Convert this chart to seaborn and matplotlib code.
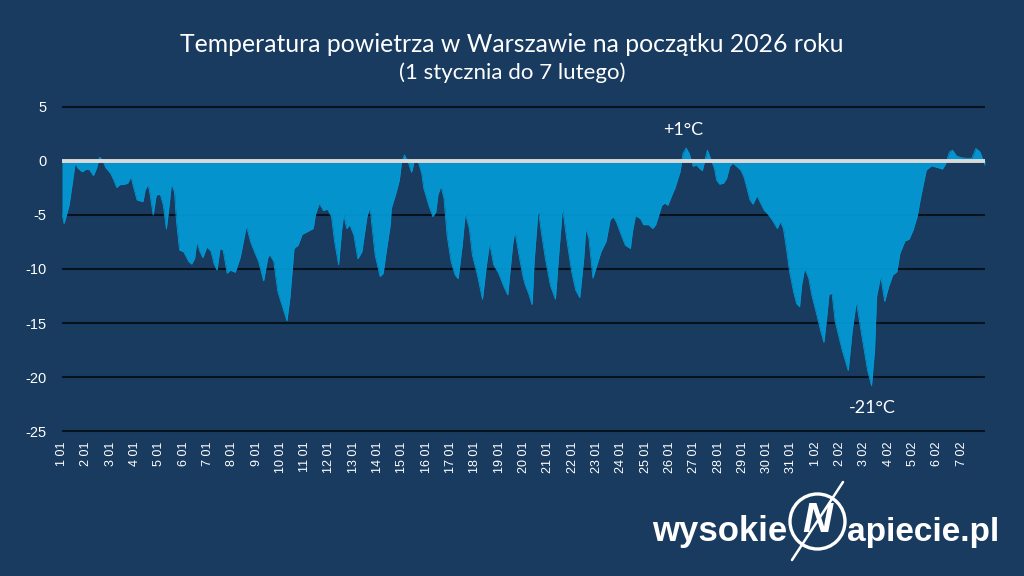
import numpy as np
import pandas as pd
import matplotlib
matplotlib.use("Agg")
import matplotlib.pyplot as plt
import seaborn as sns
from matplotlib.patches import Circle
from matplotlib.lines import Line2D

# ---------------- data (hours since 1 Jan 2026 00:00, temperature in °C) -------------
hours = [0, 2, 7, 13, 16, 20, 24, 27, 31, 34, 37, 40, 43, 48, 51, 54, 57, 62, 65, 68,
         71, 74, 77, 80, 82, 85, 87, 90, 93, 97, 100, 103, 106, 108, 111, 113, 116, 120,
         125, 128, 131, 133, 136, 139, 143, 147, 150, 153, 156, 159, 163, 166, 171, 176,
         182, 186, 190, 194, 199, 203, 205, 209, 213, 222, 225, 229, 233, 237, 243, 248,
         250, 254, 258, 262, 266, 269, 273, 276, 278, 281, 284, 288, 292, 296, 301, 304,
         309, 314, 317, 320, 324, 325, 330, 333, 335, 338, 342, 345, 348, 352, 355, 357,
         362, 366, 369, 371, 374, 377, 380, 384, 388, 391, 395, 398, 402, 405, 410, 415,
         419, 422, 426, 431, 436, 440, 442, 445, 447, 451, 455, 457, 461, 464, 466, 470,
         473, 477, 482, 487, 490, 494, 498, 503, 507, 511, 515, 517, 520, 524, 528, 532,
         537, 541, 544, 547, 552, 556, 561, 563, 566, 571, 574, 579, 583, 586, 589, 592,
         595, 598, 602, 605, 610, 613, 616, 619, 623, 626, 630, 632, 635, 637, 640, 644,
         646, 649, 653, 656, 659, 662, 666, 670, 673, 676, 679, 682, 686, 689, 693, 697,
         701, 706, 709, 712, 715, 718, 722, 725, 728, 730, 733, 737, 740, 745, 749, 752,
         755, 757, 760, 763, 770, 776, 780, 784, 789, 795, 799, 802, 804, 808, 812, 816,
         820, 824, 827, 832, 836, 840, 844, 847, 851, 853, 858, 864, 869, 872, 876, 879,
         883, 888, 893, 898, 902, 906, 909, 911]
temps = [-4.85, -5.8, -4.1, -0.2, -0.7, -1.0, -0.75, -0.8, -1.35, -0.7, 0.35, 0.1, -0.6,
         -1.15, -1.75, -2.45, -2.2, -2.15, -2.05, -1.45, -2.55, -3.6, -3.7, -3.75, -2.7,
         -2.15, -3.15, -5.0, -3.15, -3.1, -4.1, -6.3, -3.9, -2.1, -2.85, -5.6, -8.25, -8.4,
         -9.3, -9.55, -9.0, -7.45, -8.35, -8.95, -7.95, -8.35, -9.5, -10.1, -8.1, -8.25,
         -10.4, -10.1, -10.3, -8.9, -6.0, -7.45, -8.4, -9.3, -11.1, -9.0, -8.65, -9.3,
         -12.1, -14.8, -12.6, -8.1, -7.8, -6.8, -6.5, -6.25, -5.0, -3.9, -4.6, -4.45,
         -5.15, -7.45, -9.6, -6.4, -4.95, -6.25, -5.9, -6.85, -9.05, -8.4, -5.15, -4.3,
         -8.7, -10.7, -10.4, -8.4, -5.9, -4.4, -2.85, -1.75, -0.2, 0.55, -0.2, -1.05, 0.1,
         -0.2, -1.15, -2.5, -4.1, -5.15, -4.7, -3.15, -2.3, -3.45, -6.85, -9.3, -10.55,
         -10.9, -7.8, -4.85, -6.25, -8.7, -10.55, -12.8, -9.6, -7.6, -9.6, -10.4, -11.6,
         -12.4, -10.4, -7.6, -6.5, -8.7, -10.7, -11.4, -12.4, -13.3, -9.3, -4.4, -6.55,
         -9.0, -11.5, -12.8, -9.0, -4.3, -7.15, -10.25, -11.95, -12.65, -9.0, -6.25, -7.15,
         -10.85, -9.6, -8.4, -7.45, -5.45, -5.15, -5.6, -6.85, -7.8, -8.1, -6.55, -5.05,
         -5.35, -5.9, -5.9, -6.25, -5.9, -5.0, -4.1, -3.9, -4.1, -3.15, -2.5, -1.0, 0.7,
         1.2, 0.7, -0.5, -0.35, -0.75, -0.9, 0.25, 1.0, 0.25, -0.7, -1.75, -2.15, -2.05,
         -1.6, -0.5, -0.2, -0.5, -0.85, -1.45, -2.5, -3.6, -4.0, -3.2, -3.8, -4.55, -4.95,
         -5.45, -6.25, -5.6, -6.25, -8.1, -10.2, -12.1, -13.2, -13.5, -11.5, -9.95, -10.85,
         -12.4, -14.25, -15.8, -16.8, -14.25, -12.35, -12.25, -14.8, -17.5, -19.4, -15.65,
         -13.0, -15.95, -19.35, -20.8, -17.5, -12.55, -10.65, -13.0, -11.6, -10.55, -10.25,
         -8.55, -7.4, -7.25, -6.4, -5.15, -3.6, -1.75, -0.85, -0.45, -0.6, -0.75, -0.3,
         0.85, 1.0, 0.45, 0.3, 0.25, 0.25, 1.15, 0.85, 0.1, -0.4]

start_date = "2026-01-01"
n_days = 38
y_ticks = [5, 0, -5, -10, -15, -20, -25]
title = "Temperatura powietrza w Warszawie na początku 2026 roku"
subtitle = "(1 stycznia do 7 lutego)"
max_label = "+1°C"
min_label = "-21°C"
logo_left = "wysokie"
logo_mid = "N"
logo_right = "apiecie.pl"

# ---------------- style -------------
BG = "#183b5f"
FILL = "#0399d5"
GRID = "#06121d"
ZERO = "#dadada"
WHITE = "#ffffff"

sns.set_theme(style="white")
plt.rcParams['font.family'] = ['Liberation Sans', 'DejaVu Sans']

df = pd.DataFrame({"hour": hours, "temp": temps})
dates = pd.date_range(start_date, periods=n_days, freq="D")
xtick_pos = [24 * i for i in range(n_days)]
xtick_lab = [f"{d.day} {d.month:02d}" for d in dates]

fig = plt.figure(figsize=(10.24, 5.76), dpi=100, facecolor=BG)
ax = fig.add_axes([62 / 1024, 1 - 433.2 / 576, 923 / 1024, (433.2 - 104.8) / 576])
ax.set_facecolor(BG)

sns.lineplot(data=df, x="hour", y="temp", ax=ax, color=FILL, lw=0.6, zorder=3)
ax.fill_between(df["hour"], df["temp"], 0, color=FILL, alpha=0.94, lw=0, zorder=2)

for y in y_ticks:
    if y != 0:
        ax.axhline(y, color=GRID, lw=1.5, zorder=1)
ax.axhline(0, color=ZERO, lw=2.8, zorder=4)

ax.set_xlim(0, 911)
ax.set_ylim(-25.2, 5.2)
ax.set_yticks(y_ticks)
ax.set_yticklabels([str(v) for v in y_ticks], color=WHITE, fontsize=10.5)
ax.set_xticks(xtick_pos)
ax.set_xticklabels(xtick_lab, rotation=90, color=WHITE, fontsize=9)
ax.tick_params(axis="y", length=0, pad=11)
ax.tick_params(axis="x", length=0, pad=6)
ax.set_xlabel("")
ax.set_ylabel("")
for s in ax.spines.values():
    s.set_visible(False)

# annotations of extremes
i_max = int(np.argmax(temps))
i_min = int(np.argmin(temps))
ax.text(hours[i_max] - 3, temps[i_max] + 1.7, max_label, color=WHITE, fontsize=13,
        ha="center", va="center", family=["Lato", "DejaVu Sans"])
ax.text(hours[i_min] + 1, temps[i_min] - 2.05, min_label, color=WHITE, fontsize=13,
        ha="center", va="center", family=["Lato", "DejaVu Sans"])

# titles
fig.text(0.5, 1 - 44 / 576, title, color=WHITE, fontsize=17.8, ha="center", va="center",
         family=["Lato", "DejaVu Sans"])
fig.text(0.5, 1 - 73 / 576, subtitle, color=WHITE, fontsize=16, ha="center", va="center",
         family=["Lato", "DejaVu Sans"])

# logo
logo_font = ["Liberation Sans", "DejaVu Sans"]
fig.text(787 / 1024, 1 - 541 / 576, logo_left, color=WHITE, fontsize=25, fontweight="bold",
         ha="right", va="baseline", family=logo_font)
fig.text(847 / 1024, 1 - 541 / 576, logo_right, color=WHITE, fontsize=24, fontweight="bold",
         ha="left", va="baseline", family=logo_font)
cx, cy, r = 817.5 / 1024, 1 - 521.5 / 576, 27.5
circ = Circle((817.5, 576 - 521.5), r, transform=None, fill=False, ec=WHITE, lw=2.4)
fig.patches.append(circ)
fig.text(cx, cy, logo_mid, color=WHITE, fontsize=30, fontweight="bold", style="italic",
         ha="center", va="center", family=["Liberation Sans", "DejaVu Sans"])
fig.lines.append(Line2D([792 / 1024, 843 / 1024], [1 - 560 / 576, 1 - 482 / 576],
                        transform=fig.transFigure, color=WHITE, lw=1.8))

fig.savefig("out.png", dpi=100, facecolor=BG)
